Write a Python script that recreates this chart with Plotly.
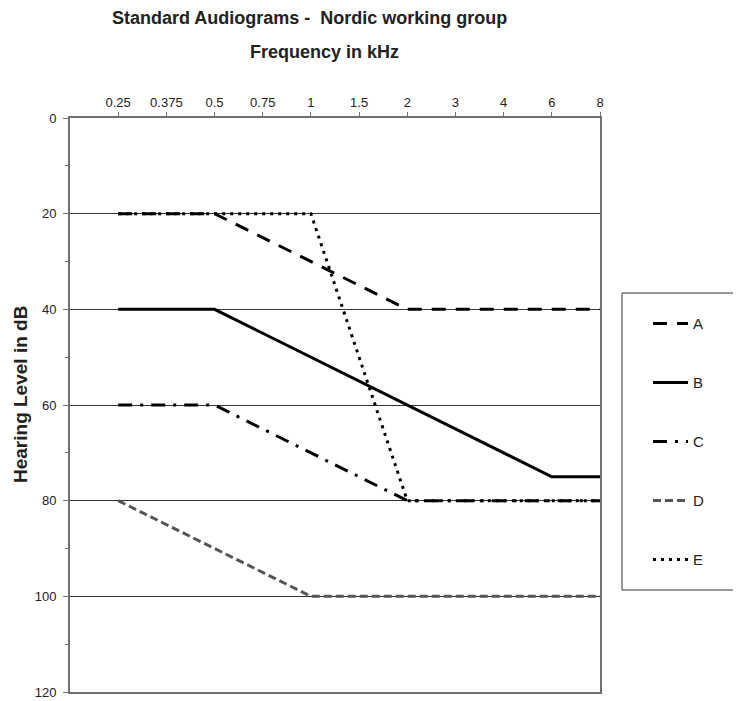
import plotly.graph_objects as go

freqs = ["0.25", "0.375", "0.5", "0.75", "1", "1.5", "2", "3", "4", "6", "8"]
A = [20, 20, 20, 25, 30, 35, 40, 40, 40, 40, 40]
B = [40, 40, 40, 45, 50, 55, 60, 65, 70, 75, 75]
C = [60, 60, 60, 65, 70, 75, 80, 80, 80, 80, 80]
D = [80, 85, 90, 95, 100, 100, 100, 100, 100, 100, 100]
E = [20, 20, 20, 20, 20, 50, 80, 80, 80, 80, 80]

series = [
    ("A", A, "black", "14px,10px"),
    ("B", B, "black", "solid"),
    ("C", C, "black", "14px,8px,3px,8px"),
    ("D", D, "#555555", "8px,4px"),
    ("E", E, "black", "3px,5px"),
]

fig = go.Figure()
for i, (name, vals, col, dash) in enumerate(series):
    fig.add_trace(go.Scatter(
        x=freqs, y=vals, mode="lines", name=name,
        legendgroup=name,
        line=dict(color=col, width=3, dash=dash),
    ))

# page body has an 8px margin, so the figure is sized/shifted to compensate
fig.update_layout(
    width=733, height=693,
    margin=dict(l=62, r=141, t=110, b=9),
    paper_bgcolor="white", plot_bgcolor="white",
    font=dict(family="Liberation Sans, Arial, sans-serif", size=13, color="#222"),
    showlegend=True,
    legend=dict(
        x=1.0906, y=0.6705, xanchor="left", yanchor="top",
        borderwidth=0, bgcolor="rgba(0,0,0,0)",
        tracegroupgap=36.5, traceorder="grouped",
        font=dict(size=15),
        itemwidth=35,
    ),
    shapes=[
        dict(type="rect", xref="paper", yref="paper",
             x0=(622 - 70) / 530, x1=(735 - 70) / 530,
             y0=(692 - 590) / 574, y1=(692 - 293) / 574,
             line=dict(color="#333", width=1), fillcolor="rgba(0,0,0,0)"),
    ],
    annotations=[
        dict(text="<b>Standard Audiograms -  Nordic working group</b>",
             xref="paper", yref="paper", x=0.451, y=1.0, yshift=100,
             showarrow=False, font=dict(size=18, color="#222"), xanchor="center", yanchor="middle"),
        dict(text="<b>Frequency in kHz</b>",
             xref="paper", yref="paper", x=0.481, y=1.0, yshift=66,
             showarrow=False, font=dict(size=18, color="#222"), xanchor="center", yanchor="middle"),
        dict(text="<b>Hearing Level in dB</b>", textangle=-90,
             xref="paper", yref="paper", x=(20 - 70) / 530, y=(692 - 395) / 574,
             showarrow=False, font=dict(size=19, color="#222"), xanchor="center", yanchor="middle"),
    ],
)

fig.update_xaxes(
    type="category", categoryorder="array", categoryarray=freqs,
    range=[-1, 10], side="top", automargin=False,
    showline=True, linecolor="#707070", linewidth=2, mirror=True,
    ticks="outside", ticklen=4, tickcolor="#707070",
    showgrid=False, zeroline=False,
    tickfont=dict(size=13, color="#222"),
)
fig.update_yaxes(
    range=[120, 0], dtick=20, tick0=0, automargin=False,
    showline=True, linecolor="#707070", linewidth=2, mirror=True,
    ticks="outside", ticklen=5, tickcolor="#707070", ticklabelstandoff=4,
    minor=dict(dtick=10, ticks="outside", ticklen=3, tickcolor="#707070", showgrid=False),
    showgrid=True, gridcolor="#333333", gridwidth=1, zeroline=False,
    tickfont=dict(size=13, color="#222"),
)

fig.write_html("out.html")
